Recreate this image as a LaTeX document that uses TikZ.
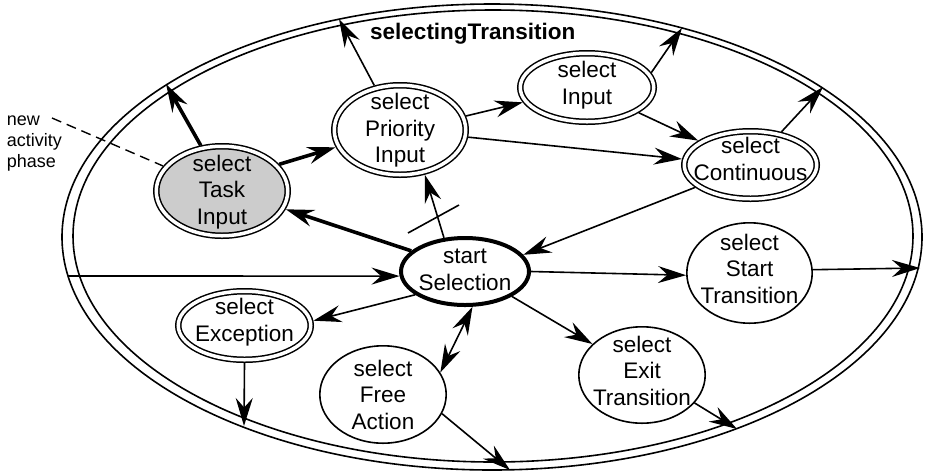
\documentclass[tikz,border=0pt]{standalone}
\usepackage{fontspec}
\setmainfont{Liberation Sans}
\usetikzlibrary{arrows.meta,shapes.geometric}
\definecolor{taskgray}{RGB}{204,204,204}
\tikzset{
  >={Stealth[length=28pt,width=17pt,inset=9.5pt]},
  statetext/.style={font=\fontsize{22.5}{26.5}\selectfont, align=center, inner sep=0pt},
  dblstate/.style={ellipse, draw, line width=1.5pt, double, double distance=3.5pt,
                   inner sep=0pt, outer sep=3.25pt},
  sglstate/.style={ellipse, draw, line width=1.6pt, inner sep=0pt, outer sep=0.8pt},
  startstate/.style={ellipse, draw, line width=4pt, inner sep=0pt, outer sep=2pt},
  thn/.style={line width=1.6pt},
  thk/.style={line width=3.6pt},
  border/.style={line width=1.6pt}
}
\begin{document}
\begin{tikzpicture}[x=1pt,y=-1pt]
\useasboundingbox (0,0) rectangle (928,475);

% double outline of the composite state
\draw[border] (492,237) ellipse [x radius=430pt, y radius=233pt];
\draw[border] (493,236) ellipse [x radius=420pt, y radius=226pt];
\node[font=\fontsize{22.5}{26.5}\selectfont\bfseries, anchor=base west, inner sep=0pt]
  (title) at (370,39) {selectingTransition};

% exit / entry points on the outline
\coordinate (o1) at (166,84);
\coordinate (o2) at (339,19);
\coordinate (o3) at (682,28);
\coordinate (o4) at (823,87);
\coordinate (o5) at (920,268);
\coordinate (o6) at (737,429);
\coordinate (o7) at (510,470);
\coordinate (o8) at (244,426);
\coordinate (o9) at (68,276);

% states
\node[dblstate, fill=taskgray, minimum width=131.5pt, minimum height=89.5pt] (tsk) at (222,191) {};
\node[statetext] (tskT) at (222,192.4) {\strut select\\Task\\Input\strut};

\node[dblstate, minimum width=131.5pt, minimum height=89.5pt] (pri) at (400,130) {};
\node[statetext] (priT) at (400,130.7) {\strut select\\Priority\\Input\strut};

\node[dblstate, minimum width=133.5pt, minimum height=68.5pt] (inp) at (587,87.5) {};
\node[statetext] (inpT) at (587,85.6) {\strut select\\Input\strut};

\node[dblstate, minimum width=132.5pt, minimum height=67.5pt] (con) at (750.5,165) {};
\node[statetext] (conT) at (750.5,161.7) {\strut select\\Continuous\strut};

\node[dblstate, minimum width=132.5pt, minimum height=68.5pt] (exc) at (244.5,325.5) {};
\node[statetext] (excT) at (244.5,322.7) {\strut select\\Exception\strut};

\node[startstate, minimum width=128pt, minimum height=67pt] (sel) at (465,271.5) {};
\node[statetext] (selT) at (465,271.7) {\strut start\\Selection\strut};

\node[sglstate, minimum width=125.4pt, minimum height=100.4pt] (sta) at (749.5,273) {};
\node[statetext] (staT) at (749.5,271.4) {\strut select\\Start\\Transition\strut};

\node[sglstate, minimum width=126.4pt, minimum height=96.4pt] (exi) at (642,375) {};
\node[statetext] (exiT) at (642,373.4) {\strut select\\Exit\\Transition\strut};

\node[sglstate, minimum width=126.4pt, minimum height=97.4pt] (fre) at (383,394.5) {};
\node[statetext] (freT) at (383,397.4) {\strut select\\Free\\Action\strut};

% annotation
\node[font=\fontsize{18}{21}\selectfont, align=left, anchor=north west, inner sep=0pt]
  (note) at (6.7,110.3) {\strut new\\activity\\phase\strut};
\coordinate (d0) at (52,118);
\draw[line width=1.4pt, dash pattern=on 10pt off 6pt] (d0) -- (tsk.157);

% transitions
\draw[->, thk] (tsk.115) -- (o1);
\draw[->, thk] (tsk.25) -- (pri.195);
\draw[->, thk] (sel.159) -- (tsk.344);
\draw[->, thn] (pri.120) -- (o2);
\draw[->, thn] (sel.122) -- (pri.299);
\coordinate (k1) at (408,233);
\coordinate (k2) at (459,205);
\draw[thn] (k1) -- (k2);
\draw[->, thn] (pri.12) -- (inp.193);
\draw[->, thn] (pri.354) -- (con.175);
\draw[->, thn] (inp.13) -- (o3);
\draw[->, thn] (inp.334) -- (con.155);
\draw[->, thn] (con.47) -- (o4);
\draw[->, thn] (con.202) -- (sel.16);
\draw[->, thn] (o9) -- (sel.184);
\draw[->, thn] (sel.0) -- (sta.182);
\draw[->, thn] (sta.3) -- (o5);
\draw[->, thn] (sel.332) -- (exi.148);
\draw[->, thn] (exi.332) -- (o6);
\draw[->, thn] (sel.205) -- (exc.4);
\draw[->, thn] (exc.270) -- (o8);
\draw[<->, thn] (sel.282) -- (fre.21);
\draw[->, thn] (fre.342) -- (o7);
\end{tikzpicture}
\end{document}
